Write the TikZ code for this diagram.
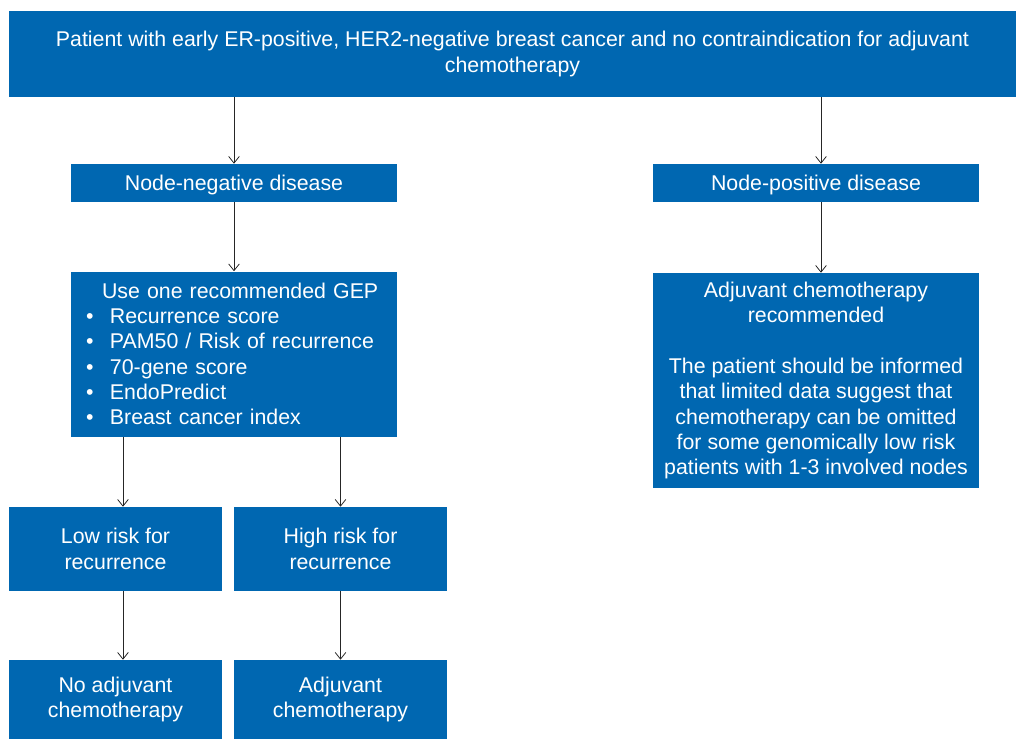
\documentclass[tikz,border=0pt]{standalone}
\usepackage{fontspec}
\setmainfont{Liberation Sans}
\usepackage{tikz}
\usetikzlibrary{positioning}
\usetikzlibrary{arrows.meta}
\definecolor{gepblue}{RGB}{0,103,177}
\tikzset{>={Straight Barb[length=5pt,width=8pt]}}
\tikzset{
  box/.style={fill=gepblue, text=white, inner sep=0pt, align=center,
    font=\fontsize{16}{19}\selectfont},
  arr/.style={->, line width=0.6pt, black!85},
}

\begin{document}
\begin{tikzpicture}[x=0.75pt, y=-0.75pt]

\useasboundingbox (0,0) rectangle (1017,739);

% ---------- Top box ----------
\node[box, minimum width=755.25pt, minimum height=64.5pt] (top) at (512.5,54)
  {Patient with early ER-positive, HER2-negative breast cancer and no contraindication for adjuvant\\chemotherapy};

% ---------- Node status ----------
\node[box, minimum width=244.5pt, minimum height=28.5pt, text height=13pt, text depth=2pt] (neg) at (234,183) {Node-negative disease};
\node[box, minimum width=244.5pt, minimum height=28.5pt, text height=13pt, text depth=2pt] (pos) at (816,183) {Node-positive disease};

% ---------- Gene expression profile ----------
\node[box, minimum width=244.5pt, minimum height=123.75pt, align=left,
      text width=222pt] (gep) at (234,354)
  {\hspace*{12pt}Use one recommended GEP\\
   \makebox[18pt][l]{\textbullet}Recurrence score\\
   \makebox[18pt][l]{\textbullet}PAM50 / Risk of recurrence\\
   \makebox[18pt][l]{\textbullet}70-gene score\\
   \makebox[18pt][l]{\textbullet}EndoPredict\\
   \makebox[18pt][l]{\textbullet}Breast cancer index};

% Node-positive recommendation
\node[box, minimum width=244.5pt, minimum height=161.25pt] (rec) at (816,380.5)
  {Adjuvant chemotherapy\\recommended\\[19pt]
   The patient should be informed\\that limited data suggest that\\chemotherapy can be omitted\\
   for some genomically low risk\\patients with 1-3 involved nodes};

% ---------- Risk groups ----------
\node[box, minimum width=159.75pt, minimum height=63pt] (low) at (115.5,549) {Low risk for\\recurrence};
\node[box, minimum width=159.75pt, minimum height=63pt] (high) at (340.5,549) {High risk for\\recurrence};

\node[box, minimum width=159.75pt, minimum height=59.25pt] (noadj) at (115.5,699.5) {No adjuvant\\chemotherapy};
\node[box, minimum width=159.75pt, minimum height=59.25pt] (adj) at (340.5,699.5) {Adjuvant\\chemotherapy};

% ---------- Arrows ----------
\draw[arr] (neg.north |- top.south) -- (neg.north);
\draw[arr] ([xshift=3.75pt]pos.north |- top.south) -- ([xshift=3.75pt]pos.north);
\draw[arr] (neg) -- (gep);
\draw[arr] ([xshift=3.75pt]pos.south) -- ([xshift=3.75pt]rec.north);
\draw[arr] ([xshift=5.6pt]low.north |- gep.south) -- ([xshift=5.6pt]low.north);
\draw[arr] (high.north |- gep.south) -- (high.north);
\draw[arr] ([xshift=5.6pt]low.south) -- ([xshift=5.6pt]noadj.north);
\draw[arr] (high) -- (adj);

\end{tikzpicture}
\end{document}
